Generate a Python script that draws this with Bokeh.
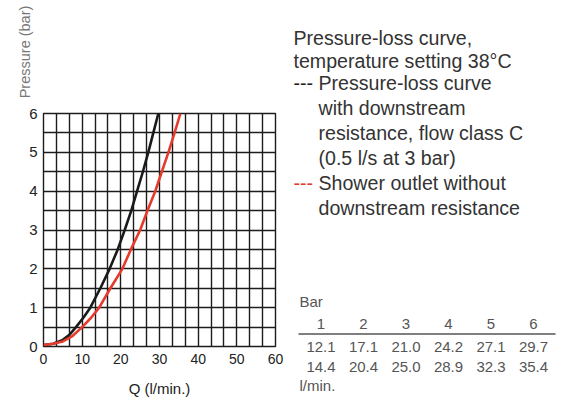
import numpy as np
from bokeh.plotting import figure
from bokeh.models import Range1d, FixedTicker, ColumnDataSource
from bokeh.layouts import row, column
from bokeh.core.properties import value
from bokeh.embed import file_html
from bokeh.resources import INLINE

# ---- data ----
x_ticks = [0, 10, 20, 30, 40, 50, 60]
y_ticks = [0, 1, 2, 3, 4, 5, 6]

# curve with downstream resistance (black)
black_q = [0.0, 2.5, 5.0, 6.7, 8.4, 10.3, 12.1, 14.7, 17.1, 19.2, 21.0, 22.7, 24.2, 25.7, 27.1, 28.4, 29.7]
black_p = [0.04, 0.07, 0.17, 0.30, 0.5, 0.74, 1.0, 1.5, 2.0, 2.5, 3.0, 3.5, 4.0, 4.5, 5.0, 5.5, 6.0]
# shower outlet without downstream resistance (red)
red_q = [0.0, 2.5, 5.0, 7.5, 10.0, 12.3, 14.4, 17.3, 20.4, 22.6, 25.0, 26.9, 28.9, 30.6, 32.3, 33.9, 35.4]
red_p = [0.04, 0.07, 0.13, 0.27, 0.5, 0.74, 1.0, 1.5, 2.0, 2.5, 3.0, 3.5, 4.0, 4.5, 5.0, 5.5, 6.0]

# table
table_bar = ["1", "2", "3", "4", "5", "6"]
table_black = ["12.1", "17.1", "21.0", "24.2", "27.1", "29.7"]
table_red = ["14.4", "20.4", "25.0", "28.9", "32.3", "35.4"]

legend_title = ["Pressure-loss curve,", "temperature setting 38°C"]
legend_black = ["Pressure-loss curve", "with downstream", "resistance, flow class C", "(0.5 l/s at 3 bar)"]
legend_red = ["Shower outlet without", "downstream resistance"]

FONT = "Liberation Sans"
GRID = "#1c1c1c"
BLACK = "#1a1a1a"
RED = "#e53a2c"
H = 399
LEFT_W = 290
RIGHT_W = 564 - LEFT_W
TOP_H = 103
BL, BR = 43, 15


def clean(f):
    f.outline_line_color = None
    f.xgrid.visible = False
    f.ygrid.visible = False
    f.background_fill_color = "white"
    f.border_fill_color = "white"
    return f


# ---- top-left: y-axis title (as the y-axis label of a small strip) ----
top = figure(width=LEFT_W, height=TOP_H, x_range=Range1d(0, 1), y_range=Range1d(0, 1),
             x_axis_type=None, output_backend="svg", toolbar_location=None,
             min_border_left=BL, min_border_right=BR, min_border_top=0, min_border_bottom=0)
clean(top)
ya = top.yaxis[0]
ya.ticker = FixedTicker(ticks=[])
ya.axis_line_color = None
ya.major_tick_line_color = None
ya.minor_tick_line_color = None
ya.major_tick_out = 0
ya.major_tick_in = 0
ya.minor_tick_out = 0
ya.major_label_standoff = 0
ya.axis_label = "Pressure (bar)"
ya.axis_label_text_font = FONT
ya.axis_label_text_font_size = "14.5px"
ya.axis_label_text_font_style = "normal"
ya.axis_label_text_color = "#777777"
ya.axis_label_standoff = 11

# ---- chart ----
CH = H - TOP_H
p = figure(width=LEFT_W, height=CH, x_range=Range1d(0, 60), y_range=Range1d(0, 6),
           output_backend="svg", toolbar_location=None,
           min_border_left=BL, min_border_right=BR, min_border_top=10, min_border_bottom=53)
p.background_fill_color = "white"
p.border_fill_color = "white"
p.outline_line_color = GRID
p.outline_line_width = 1.4

p.xaxis.ticker = FixedTicker(ticks=x_ticks)
p.yaxis.ticker = FixedTicker(ticks=y_ticks)
p.xgrid.ticker = FixedTicker(ticks=list(np.linspace(0, 60, 19)))
p.ygrid.ticker = FixedTicker(ticks=list(np.arange(0, 6.01, 0.5)))
for g in (p.xgrid, p.ygrid):
    g.grid_line_color = GRID
    g.grid_line_width = 1.4
    g.grid_line_alpha = 1.0

for ax, size, so in ((p.xaxis, "14px", 7), (p.yaxis, "15px", 6)):
    ax.axis_line_color = None
    ax.major_tick_line_color = None
    ax.minor_tick_line_color = None
    ax.major_tick_out = 0
    ax.major_tick_in = 0
    ax.minor_tick_out = 0
    ax.minor_tick_in = 0
    ax.major_label_standoff = so
    ax.major_label_text_font = FONT
    ax.major_label_text_font_size = size
    ax.major_label_text_color = "#222222"

p.xaxis.axis_label = "Q (l/min.)"
p.xaxis.axis_label_text_font = FONT
p.xaxis.axis_label_text_font_size = "15px"
p.xaxis.axis_label_text_font_style = "normal"
p.xaxis.axis_label_text_color = "#222222"
p.xaxis.axis_label_standoff = 13

p.line(black_q, black_p, line_color=BLACK, line_width=2.6)
p.line(red_q, red_p, line_color=RED, line_width=2.6)

# ---- right side: legend text and table ----
r = figure(width=RIGHT_W, height=H, x_range=Range1d(0, RIGHT_W), y_range=Range1d(0, H),
           x_axis_type=None, y_axis_type=None, min_border=0,
           output_backend="svg", toolbar_location=None)
clean(r)
X0 = LEFT_W  # page x of right panel


def put(xs, ys, texts, size, color, align="left"):
    src = ColumnDataSource(dict(x=[x - X0 for x in xs], y=[H - y for y in ys], t=texts))
    r.text(x="x", y="y", text="t", source=src, text_font=value(FONT), text_font_size=size,
           text_color=color, text_align=align, text_baseline="middle")


LC = "#333333"
LS = "19.6px"
put([293, 293], [37, 60], legend_title, LS, LC)
put([293], [82], ["---"], LS, "#222222")
put([318] * 4, [82, 107, 132, 157], legend_black, LS, LC)
put([293], [182], ["---"], LS, RED)
put([318] * 2, [182, 207], legend_red, LS, LC)

TC = "#555555"
cols = [320.5 + 42.5 * i for i in range(len(table_bar))]
put([299], [301], ["Bar"], "15px", TC)
put(cols, [323] * 6, table_bar, "15px", TC, "center")
put(cols, [346] * 6, table_black, "15px", TC, "center")
put(cols, [366] * 6, table_red, "15px", TC, "center")
put([299], [385], ["l/min."], "15px", TC)
r.segment(x0=[298 - X0], y0=[H - 333.5], x1=[555 - X0], y1=[H - 333.5],
          line_color="#555555", line_width=1.6)

layout = row(column(top, p, spacing=0), r, spacing=0)
open("out.html", "w").write(file_html(layout, INLINE))
